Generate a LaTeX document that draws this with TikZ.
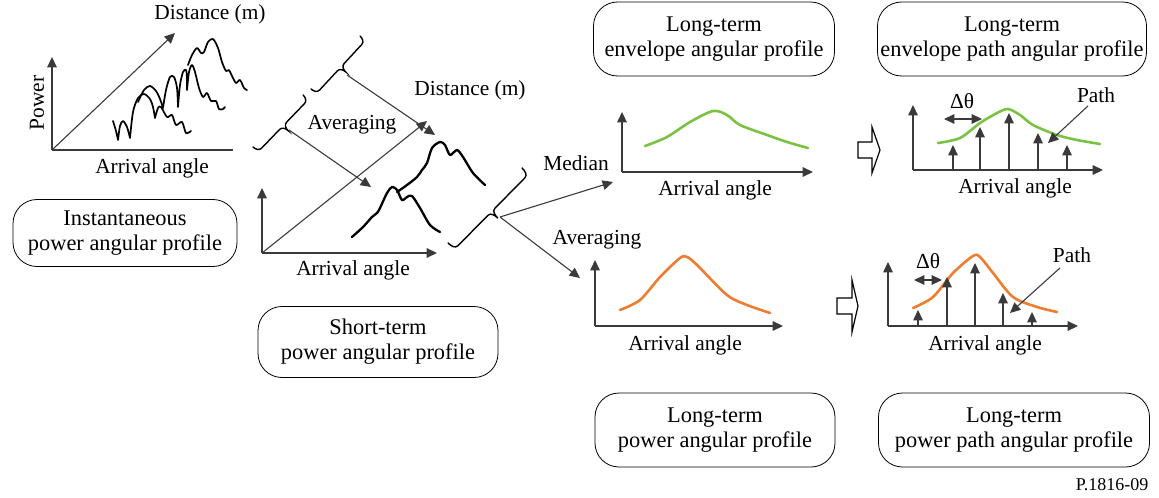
\documentclass[tikz,border=0pt]{standalone}
\usepackage{fontspec}
\setmainfont{Liberation Serif}
\usetikzlibrary{arrows.meta, positioning, calc}
\definecolor{envgreen}{HTML}{7CC242}
\definecolor{pworange}{HTML}{EE7D31}
\definecolor{linegray}{HTML}{3A3A3A}

\tikzset{
    pics/curly/.style n args={2}{code={
        \draw[line width=0.7pt, line cap=round, x=1pt, y=1pt]
            (0,0) to[out=-90,in=180] (2.5,-#2/2) -- (#1/2-2.5,-#2/2)
            to[out=0,in=90] (#1/2,-#2) to[out=90,in=180] (#1/2+2.5,-#2/2)
            -- (#1-2.5,-#2/2) to[out=0,in=-90] (#1,0);
    }},
}

\begin{document}
\begin{tikzpicture}[
    x=0.5pt, y=-0.5pt,
    box/.style={draw, rounded corners=12pt, minimum height=37pt, inner xsep=1pt,
                align=center, font=\fontsize{11.2}{12.6}\selectfont},
    lbl/.style={font=\fontsize{10.7}{12}\selectfont, inner sep=0pt},
    axis/.style={draw=linegray, line width=0.55pt},
    arrow/.style={axis, -{Triangle[length=5.2pt,width=4.8pt]}},
    twoway/.style={axis, {Triangle[length=5.2pt,width=4.8pt]}-{Triangle[length=5.2pt,width=4.8pt]}},
    raw/.style={line width=0.85pt, line cap=round, line join=round},
    envcurve/.style={envgreen, line width=1.3pt, line cap=round},
    pwcurve/.style={pworange, line width=1.3pt, line cap=round},
    hollow/.style={draw, line width=0.6pt, line join=miter},
]
    \useasboundingbox (0,0) rectangle (1159,497);

    % instantaneous profile
    \coordinate (o1) at (52,150);
    \draw[axis]  (o1) -- ++(181,0);
    \draw[arrow] (o1) -- ++(0,-93);
    \draw[arrow] (o1) -- ++(123,-117);
    \node[lbl, rotate=90] (pow1) at (37,103) {Power};
    \node[lbl] (dist1) at (210,14) {Distance (m)};
    \node[lbl] (ang1) at (152,168) {Arrival angle};
    \draw[raw] plot[smooth] coordinates {(113,121) (116,131) (118,140)}
               plot[smooth] coordinates {(118,140) (120,126) (123,121) (127,127) (130,138)}
               plot[smooth] coordinates {(130,138) (133,112) (138,98) (144,94) (150,99) (153,107) (155,118)}
               plot[smooth] coordinates {(155,118) (158,108) (161,107) (167,117) (172,115) (176,125)
                                         (182,122) (186,133) (191,131)};
    \draw[raw] plot[smooth] coordinates {(138,102) (144,90) (150,86) (156,91) (160,99) (163,108)}
               plot[smooth] coordinates {(163,108) (166,90) (170,77) (174,77) (177,88) (178,107)}
               plot[smooth] coordinates {(178,107) (180,85) (183,72) (186,70) (187,78) (187,90)}
               plot[smooth] coordinates {(187,90) (189,72) (192,65) (195,72) (199,88) (203,97) (207,93)
                                         (211,101) (216,101) (219,109) (223,109) (225,107)};
    \draw[raw] plot[smooth] coordinates {(188,65) (192,55) (197,48) (201,53) (204,52) (208,42) (213,39)
                                         (218,48) (222,62) (226,71) (229,70) (232,76) (236,83)
                                         (240,80) (244,88) (247,90)};
    \node[box, minimum width=112pt, minimum height=33.5pt] (inst) at (125,233)
        {Instantaneous\\power angular profile};

    % short-term profile
    \coordinate (o2) at (262,253);
    \draw[arrow] (o2) -- ++(0,-65);
    \draw[arrow] (o2) -- ++(175,0);
    \draw[arrow] (o2) -- ++(165,-132);
    \pic[rotate=47.2] at (311,89) {curly={36.1}{7}};
    \pic[rotate=46.1] at (253,147) {curly={36.1}{7}};
    \pic[rotate=45.4] at (448,243) {curly={52.7}{9}};
    \coordinate (tip1) at (347,75);
    \coordinate (tip2) at (289,130);
    \coordinate (end1) at (435,135);
    \coordinate (end2) at (371,187);
    \draw[arrow] (tip1) -- (end1);
    \draw[arrow] (tip2) -- (end2);
    \node[lbl] (avg1) at (352,125) {Averaging};
    \node[lbl] (dist2) at (470,90) {Distance (m)};
    \node[lbl] (ang2) at (353,270) {Arrival angle};
    \draw[raw, line width=1.15pt] plot[smooth] coordinates {(352,237) (363,227) (372,217) (377,213)
        (380,208) (387,193) (392,187) (397,190) (402,200) (407,197) (412,196) (420,208) (430,225) (440,232)};
    \draw[raw, line width=1.15pt] plot[smooth] coordinates {(397,192) (407,185) (417,177) (422,170)
        (427,163) (432,148) (440,142) (445,145) (450,155) (457,150) (463,157) (473,173) (485,185)};
    \node[box, minimum width=120pt, minimum height=35.5pt] (short) at (378,342)
        {Short-term\\power angular profile};

    % split into median and averaging
    \coordinate (tip3) at (500,217);
    \coordinate (medend) at (613,182);
    \coordinate (avgend) at (580,278);
    \draw[arrow] (tip3) -- (medend);
    \draw[arrow] (tip3) -- (avgend);
    \node[lbl] (med) at (576,163) {Median};
    \node[lbl] (avg2) at (597,240) {Averaging};

    % long-term envelope
    \coordinate (o3) at (622,172);
    \draw[arrow] (o3) -- ++(0,-60);
    \draw[arrow] (o3) -- ++(191,0);
    \draw[envcurve] plot[smooth] coordinates {(645,146) (667,137) (690,122) (713,111) (727,115)
        (740,125) (767,135) (787,142) (808,148)};
    \node[lbl] (ang3) at (715,190) {Arrival angle};
    \node[box, minimum width=120.5pt] (envlt) at (714,39) {Long-term\\envelope angular profile};

    \draw[hollow] (858,142) -- (872,142) -- (872,127) -- (880,150) -- (872,173) -- (872,158)
        -- (858,158) -- cycle;

    % envelope paths
    \coordinate (o4) at (913,170);
    \draw[arrow] (o4) -- ++(0,-65);
    \draw[arrow] (o4) -- ++(190,0);
    \draw[envcurve] plot[smooth] coordinates {(938,143) (960,138) (980,123) (997,113) (1008,109)
        (1020,115) (1033,125) (1057,135) (1077,140) (1100,144)};
    \foreach \px/\py in {953/145, 980/127, 1009/113, 1038/133, 1067/145}
        \draw[arrow] (\px,170) -- (\px,\py);
    \coordinate (dl4) at (944,119);
    \coordinate (dr4) at (982,119);
    \draw[twoway] (dl4) -- (dr4);
    \node[lbl] (dth4) at (962,101) {Δθ};
    \node[lbl] (path4) at (1096,95) {Path};
    \coordinate (pend4) at (1048,143);
    \draw[arrow] ($(path4.south)+(-8,3)$) -- (pend4);
    \node[lbl] (ang4) at (1015,188) {Arrival angle};
    \node[box, minimum width=134.5pt] (envpath) at (1012,39) {Long-term\\envelope path angular profile};

    % long-term power
    \coordinate (o5) at (595,326);
    \draw[arrow] (o5) -- ++(0,-66);
    \draw[arrow] (o5) -- ++(188,0);
    \draw[pwcurve] plot[smooth] coordinates {(620,310) (640,300) (660,277) (680,258) (687,257)
        (697,265) (727,295) (747,305) (770,313)};
    \node[lbl] (ang5) at (685,345) {Arrival angle};
    \node[box, minimum width=120pt] (pwlt) at (715,430) {Long-term\\power angular profile};

    \draw[hollow] (837,298) -- (852,298) -- (852,280) -- (858,306) -- (852,332) -- (852,314)
        -- (837,314) -- cycle;

    % power paths
    \coordinate (o6) at (888,326);
    \draw[arrow] (o6) -- ++(0,-64);
    \draw[arrow] (o6) -- ++(190,0);
    \draw[pwcurve] plot[smooth] coordinates {(913,308) (933,297) (953,273) (973,256) (980,257)
        (993,273) (1013,297) (1037,307) (1057,312)};
    \foreach \px/\py in {918/310, 947/277, 975/263, 1003/293, 1032/312}
        \draw[arrow] (\px,326) -- (\px,\py);
    \coordinate (dl6) at (914,280);
    \coordinate (dr6) at (942,280);
    \draw[twoway] (dl6) -- (dr6);
    \node[lbl] (dth6) at (928,261) {Δθ};
    \node[lbl] (path6) at (1072,255) {Path};
    \coordinate (pend6) at (1010,313);
    \draw[arrow] ($(path6.south)+(-12,5)$) -- (pend6);
    \node[lbl] (ang6) at (985,345) {Arrival angle};
    \node[box, minimum width=135.5pt] (pwpath) at (1014,430) {Long-term\\power path angular profile};

    \node[font=\fontsize{9}{10}\selectfont, inner sep=0pt] (fig) at (1112,485) {P.1816-09};
\end{tikzpicture}
\end{document}
